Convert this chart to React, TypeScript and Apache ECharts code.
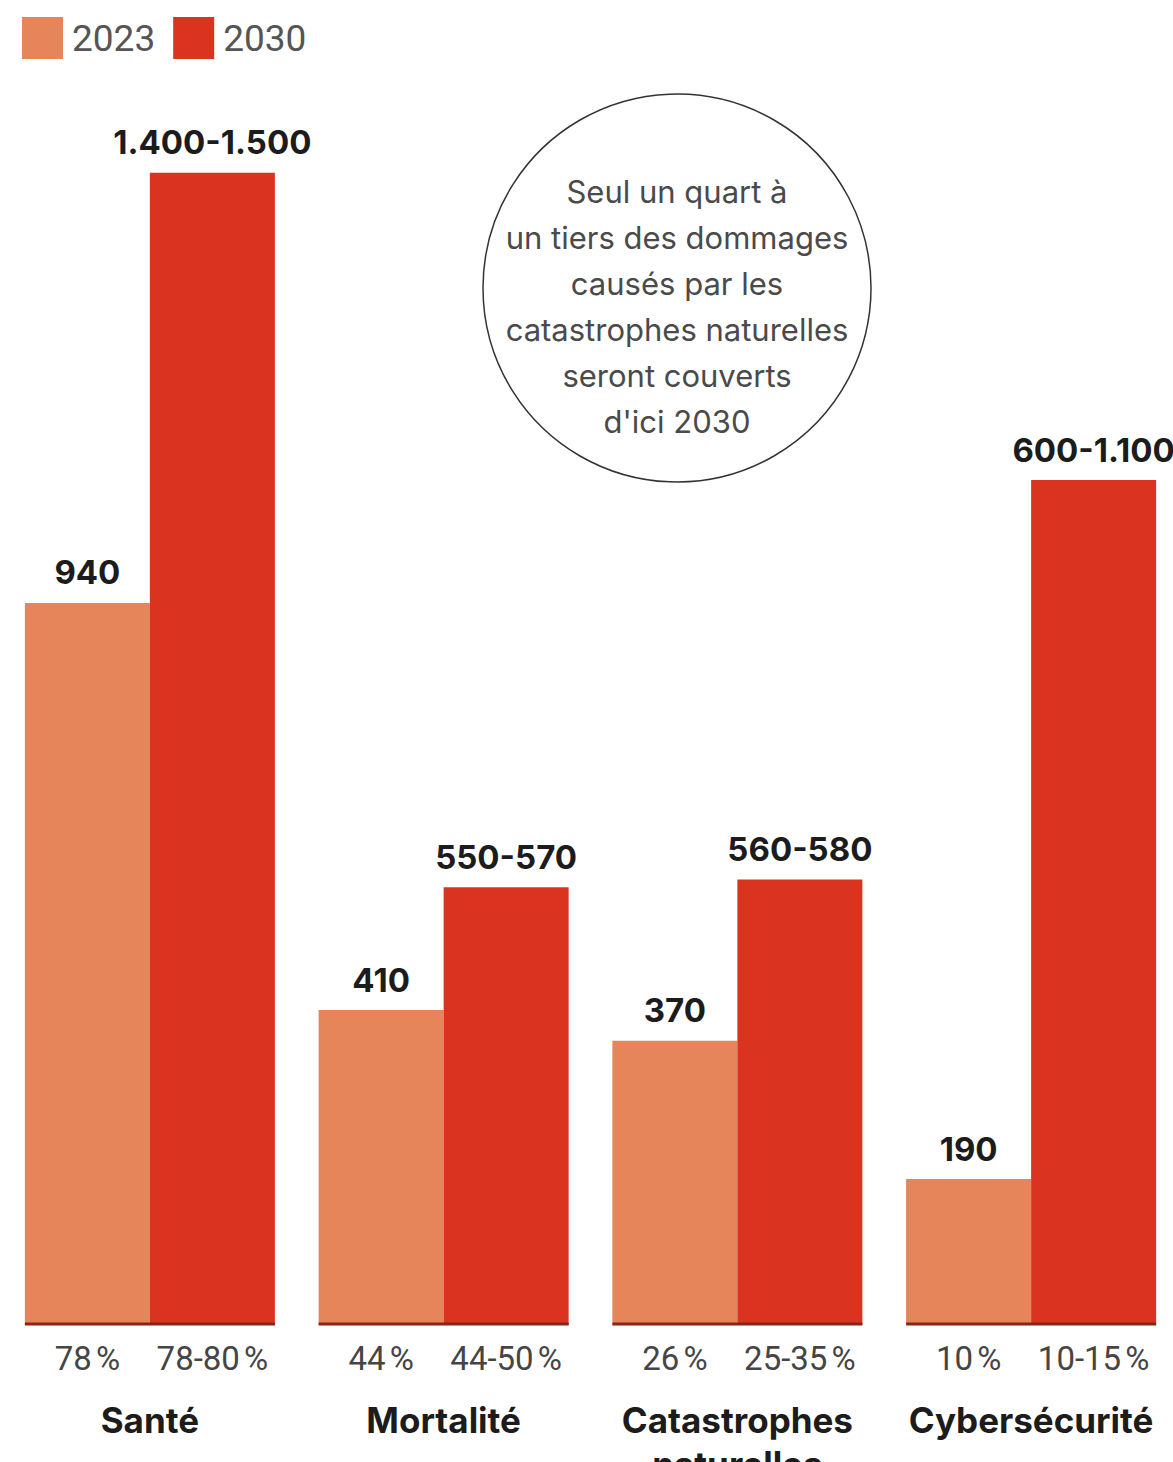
import React, { useEffect, useRef } from "react";
import * as echarts from "echarts";

const categories = ["Santé", "Mortalité", "Catastrophes\nnaturelles", "Cybersécurité"];
const seriesNames = ["2023", "2030"];
const values2023 = [940, 410, 370, 190];
const values2030 = [1500, 570, 580, 1100];
const labels2023 = ["940", "410", "370", "190"];
const labels2030 = ["1.400-1.500", "550-570", "560-580", "600-1.100"];
const pct2023 = ["78\u202F%", "44\u202F%", "26\u202F%", "10\u202F%"];
const pct2030 = ["78-80\u202F%", "44-50\u202F%", "25-35\u202F%", "10-15\u202F%"];
const noteLines = [
  "Seul un quart à",
  "un tiers des dommages",
  "causés par les",
  "catastrophes naturelles",
  "seront couverts",
  "d'ici 2030",
];

const COLOR_2023 = "#E6845A";
const COLOR_2030 = "#DA3320";
const FONT = "Inter, 'Noto Sans', sans-serif";
const FONT_LIGHT = "Roboto, Inter, sans-serif";

export default function App() {
  const ref = useRef<HTMLDivElement>(null);

  useEffect(() => {
    document.body.style.margin = "0";
    if (!ref.current) return;
    const chart = echarts.init(ref.current, null, { renderer: "svg" });

    const BAR_W = 125;

    const option: any = {
      animation: false,
      backgroundColor: "#ffffff",
      textStyle: { fontFamily: FONT },
      legend: {
        data: seriesNames,
        left: 17,
        top: 12,
        itemWidth: 41,
        itemHeight: 42,
        itemGap: 18,
        icon: "rect",
        textStyle: {
          fontSize: 37,
          color: "#555555",
          fontFamily: FONT_LIGHT,
          padding: [0, 0, 0, 4],
        },
        selectedMode: false,
      },
      grid: {
        left: 3,
        top: 96,
        width: 1175,
        bottom: 137,
        containLabel: false,
        outerBoundsMode: "none",
      },
      xAxis: {
        type: "category",
        data: categories,
        axisLine: { show: false },
        axisTick: { show: false },
        splitLine: { show: false },
        axisLabel: {
          interval: 0,
          margin: 73,
          fontSize: 35,
          fontWeight: "bold",
          lineHeight: 44,
          color: "#1c1c1c",
          fontFamily: FONT,
          hideOverlap: false,
        },
      },
      yAxis: {
        type: "value",
        min: 0,
        max: 1600,
        show: false,
        splitLine: { show: false },
      },
      graphic: [
        {
          type: "circle",
          shape: { cx: 677, cy: 288, r: 194 },
          style: { fill: "transparent", stroke: "#333333", lineWidth: 1.5 },
          z: 10,
        },
        ...noteLines.map((t, i) => ({
          type: "text",
          x: 677,
          y: 191 + i * 46,
          style: {
            text: t,
            align: "center",
            verticalAlign: "middle",
            fontSize: 31,
            fontFamily: FONT,
            fill: "#4a4a4a",
          },
          z: 10,
        })),
      ],
      series: [
        {
          name: "2023",
          type: "bar",
          data: values2023,
          barWidth: BAR_W,
          barGap: "0%",
          itemStyle: { color: COLOR_2023 },
          label: {
            show: true,
            position: "top",
            distance: 14,
            fontSize: 33,
            fontWeight: "bold",
            color: "#1c1c1c",
            fontFamily: FONT,
            formatter: (p: any) => labels2023[p.dataIndex],
          },
        },
        {
          name: "2030",
          type: "bar",
          data: values2030,
          barWidth: BAR_W,
          barGap: "0%",
          itemStyle: { color: COLOR_2030 },
          label: {
            show: true,
            position: "top",
            distance: 14,
            fontSize: 33,
            fontWeight: "bold",
            color: "#1c1c1c",
            fontFamily: FONT,
            formatter: (p: any) => labels2030[p.dataIndex],
          },
        },
        {
          name: "base",
          type: "custom",
          clip: false,
          z: 5,
          silent: true,
          data: categories.map((_, i) => [i]),
          encode: { x: 0 },
          renderItem: (params: any, api: any) => {
            const idx = api.value(0);
            const pt = api.coord([idx, 0]);
            const cx = pt[0];
            const cy = pt[1];
            return {
              type: "group",
              children: [
                {
                  type: "line",
                  shape: { x1: cx - BAR_W, y1: cy - 1, x2: cx + BAR_W, y2: cy - 1 },
                  style: { stroke: "#8a2414", lineWidth: 3 },
                },
                {
                  type: "text",
                  x: cx - BAR_W / 2,
                  y: cy + 33,
                  style: {
                    text: pct2023[idx],
                    align: "center",
                    verticalAlign: "middle",
                    fontSize: 33,
                    fontFamily: FONT_LIGHT,
                    fill: "#454545",
                  },
                },
                {
                  type: "text",
                  x: cx + BAR_W / 2,
                  y: cy + 33,
                  style: {
                    text: pct2030[idx],
                    align: "center",
                    verticalAlign: "middle",
                    fontSize: 33,
                    fontFamily: FONT_LIGHT,
                    fill: "#454545",
                  },
                },
              ],
            };
          },
        },
      ],
    };

    chart.setOption(option);
    return () => chart.dispose();
  }, []);

  return <div ref={ref} style={{ width: 1173, height: 1462 }} />;
}
